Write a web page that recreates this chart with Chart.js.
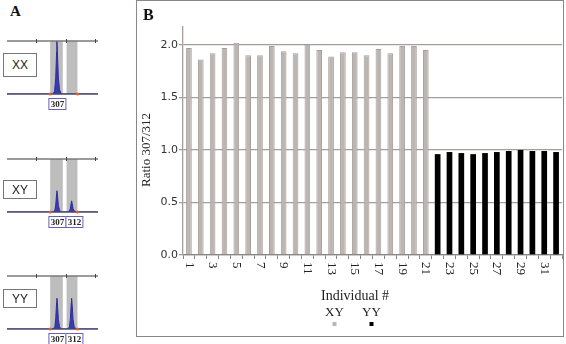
<!DOCTYPE html>
<html>
<head>
<meta charset="utf-8">
<script src="https://cdn.jsdelivr.net/npm/chart.js@4.4.0/dist/chart.umd.min.js"></script>
<style>
body { margin:0; width:566px; height:344px; overflow:hidden; background:#fff; position:relative; }
canvas { position:absolute; }
.geno { position:absolute; left:3px; width:34px; border:1px solid #777; box-sizing:border-box; font:12px 'Liberation Sans', sans-serif; color:#222; display:flex; align-items:center; justify-content:center; background:#fff; }
#labelA { position:absolute; left:10px; top:3px; font:bold 15px 'Liberation Serif', serif; color:#111; }
#boxB { position:absolute; left:136px; top:0; width:428px; height:337px; border:1.5px solid #8c8686; box-sizing:border-box; }
</style>
</head>
<body>
<div id="labelA">A</div>
<canvas id="stripXX" width="100" height="72" style="left:0;top:38px"></canvas>
<canvas id="stripXY" width="100" height="72" style="left:0;top:156px"></canvas>
<canvas id="stripYY" width="100" height="72" style="left:0;top:273px"></canvas>
<div class="geno" style="top:53px;height:24px">XX</div>
<div class="geno" style="top:180px;height:19px">XY</div>
<div class="geno" style="top:289px;height:19px">YY</div>
<div id="boxB"></div>
<canvas id="chartB" width="426" height="336" style="left:137px;top:0"></canvas>
<script>

// panel B data
const individuals = ['1','2','3','4','5','6','7','8','9','10','11','12','13','14','15','16',
    '17','18','19','20','21','22','23','24','25','26','27','28','29','30','31','32'];

const ratioXY = [1.97, 1.86, 1.92, 1.97, 2.02, 1.90, 1.90, 1.99, 1.94, 1.92, 2.00,
    1.95, 1.89, 1.93, 1.93, 1.90, 1.96, 1.92, 1.99, 1.99, 1.95,
    null, null, null, null, null, null, null, null, null, null, null];

const ratioYY = [null, null, null, null, null, null, null, null, null, null, null,
    null, null, null, null, null, null, null, null, null, null,
    0.96, 0.98, 0.97, 0.96, 0.97, 0.98, 0.99, 1.00, 0.99, 0.99, 0.98];

const yTicks = [0, 0.5, 1.0, 1.5, 2.0];
const yTitle = 'Ratio 307/312';
const xTitle = 'Individual #';

// panel A data (size in bp, relative peak height)
const binRanges = [[304.7, 309.0], [310.3, 314.0]];
const bpTicks = [300, 310, 320];

const peaksXX = [[290,0],[305.6,0],[306.2,0.05],[306.6,0.3],[306.9,0.8],[307.0,1.0],[307.2,0.75],
    [307.5,0.3],[307.9,0.08],[308.5,0],[321,0]];

const peaksXY = [[290,0],[305.7,0],[306.3,0.03],[306.6,0.13],[306.9,0.34],[307.0,0.4],[307.2,0.31],
    [307.5,0.12],[307.9,0.03],[308.5,0],[310.7,0],[311.3,0.02],[311.6,0.07],[311.9,0.18],[312.0,0.21],
    [312.2,0.16],[312.5,0.06],[312.9,0.02],[313.5,0],[321,0]];

const peaksYY = [[290,0],[305.7,0],[306.3,0.04],[306.6,0.2],[306.9,0.5],[307.0,0.58],[307.2,0.45],
    [307.5,0.18],[307.9,0.04],[308.5,0],[310.7,0],[311.3,0.04],[311.6,0.2],[311.9,0.5],[312.0,0.58],
    [312.2,0.45],[312.5,0.18],[312.9,0.04],[313.5,0],[321,0]];


Chart.defaults.animation = false;
Chart.defaults.devicePixelRatio = 1;


function makeStrip(id, peaks, alleles) {

    const deco = {
        id: 'deco',
        beforeDatasetsDraw(chart) {
            const ctx = chart.ctx, xs = chart.scales.x, a = chart.chartArea;
            ctx.save();
            ctx.fillStyle = '#bdbdbd';
            binRanges.forEach(function (b) {
                const x0 = xs.getPixelForValue(b[0]), x1 = xs.getPixelForValue(b[1]);
                ctx.fillRect(x0, a.top, x1 - x0, a.bottom - a.top);
            });
            ctx.restore();
        },
        afterDatasetsDraw(chart) {
            const ctx = chart.ctx, xs = chart.scales.x, a = chart.chartArea;
            ctx.save();
            // top line and its ticks
            ctx.strokeStyle = '#7a7a7a';
            ctx.lineWidth = 1.5;
            ctx.beginPath();
            ctx.moveTo(a.left, a.top);
            ctx.lineTo(a.right, a.top);
            ctx.stroke();
            ctx.strokeStyle = '#444';
            ctx.lineWidth = 1;
            bpTicks.forEach(function (t) {
                const x = Math.round(xs.getPixelForValue(t)) + 0.5;
                ctx.beginPath();
                ctx.moveTo(x, a.top - 2);
                ctx.lineTo(x, a.top + 2);
                ctx.stroke();
            });
            // baseline
            ctx.strokeStyle = '#4a4870';
            ctx.lineWidth = 1.5;
            ctx.beginPath();
            ctx.moveTo(a.left, a.bottom);
            ctx.lineTo(a.right, a.bottom);
            ctx.stroke();
            // bin edge markers
            ctx.fillStyle = '#e0622e';
            [binRanges[0][0], binRanges[1][1]].forEach(function (v) {
                ctx.beginPath();
                ctx.arc(xs.getPixelForValue(v), a.bottom, 1.6, 0, Math.PI * 2);
                ctx.fill();
            });
            // allele label boxes
            let left = xs.getPixelForValue(307) - 8.5;
            ctx.font = 'bold 9px "Liberation Serif"';
            ctx.textAlign = 'center';
            ctx.textBaseline = 'middle';
            alleles.forEach(function (lab) {
                ctx.fillStyle = '#fff';
                ctx.fillRect(left, a.bottom + 4, 17, 11);
                ctx.strokeStyle = '#6a5fb0';
                ctx.lineWidth = 1;
                ctx.strokeRect(left + 0.5, a.bottom + 4.5, 17, 11);
                ctx.fillStyle = '#222';
                ctx.fillText(lab, left + 9, a.bottom + 10.5);
                left += 17;
            });
            ctx.restore();
        }
    };

    return new Chart(document.getElementById(id), {
        type: 'line',
        data: {
            datasets: [{
                data: peaks.map(function (p) { return {x: p[0], y: p[1]}; }),
                borderColor: '#2c2c96',
                backgroundColor: '#3b3bb0',
                borderWidth: 1,
                fill: 'origin',
                pointRadius: 0,
                tension: 0
            }]
        },
        options: {
            responsive: false,
            layout: { padding: { left: 7, right: 2, top: 3, bottom: 16 } },
            plugins: { legend: { display: false }, tooltip: { enabled: false } },
            scales: {
                x: { type: 'linear', min: 290, max: 321, display: false },
                y: { min: 0, max: 1, display: false }
            }
        },
        plugins: [deco]
    });
}

makeStrip('stripXX', peaksXX, ['307']);
makeStrip('stripXY', peaksXY, ['307', '312']);
makeStrip('stripYY', peaksYY, ['307', '312']);


const extrasB = {
    id: 'extrasB',
    afterDraw(chart) {
        const ctx = chart.ctx, xs = chart.scales.x, a = chart.chartArea;
        ctx.save();
        ctx.fillStyle = '#111';
        ctx.font = 'bold 16px "Liberation Serif"';
        ctx.textAlign = 'left';
        ctx.textBaseline = 'alphabetic';
        ctx.fillText('B', 6, 20);

        ctx.fillStyle = '#222';
        ctx.save();
        ctx.translate(10, 150);
        ctx.rotate(-Math.PI / 2);
        ctx.font = '13px "Liberation Serif"';
        ctx.textAlign = 'center';
        ctx.textBaseline = 'middle';
        ctx.fillText(yTitle, 0, 0);
        ctx.restore();

        // rotated tick labels, every second one
        ctx.font = '13px "Liberation Serif"';
        individuals.forEach(function (lab, i) {
            if (i % 2) return;
            ctx.save();
            ctx.translate(xs.getPixelForValue(i), a.bottom + 7);
            ctx.rotate(Math.PI / 2);
            ctx.textAlign = 'left';
            ctx.textBaseline = 'middle';
            ctx.fillText(lab, 0, 0);
            ctx.restore();
        });

        ctx.font = '14px "Liberation Serif"';
        ctx.textAlign = 'center';
        ctx.textBaseline = 'middle';
        ctx.fillText(xTitle, 218, 296);

        // legend: name above a small swatch
        ctx.font = '13px "Liberation Serif"';
        chart.data.datasets.forEach(function (ds, k) {
            const cx = 197.5 + k * 37;
            ctx.fillStyle = '#222';
            ctx.fillText(ds.label, cx, 313);
            ctx.fillStyle = ds.backgroundColor;
            ctx.fillRect(cx - 2, 322, 4, 4);
        });
        ctx.restore();
    }
};

new Chart(document.getElementById('chartB'), {
    type: 'bar',
    data: {
        labels: individuals,
        datasets: [
            { label: 'XY', data: ratioXY, backgroundColor: '#bcb6b3', borderColor: '#a59f9c', borderWidth: 1, grouped: false },
            { label: 'YY', data: ratioYY, backgroundColor: '#000000', borderColor: '#000000', borderWidth: 0, grouped: false }
        ]
    },
    options: {
        responsive: false,
        layout: { padding: { left: 0, right: 1, top: 27, bottom: 0 } },
        categoryPercentage: 1,
        barPercentage: 0.48,
        plugins: { legend: { display: false }, tooltip: { enabled: false } },
        scales: {
            x: {
                grid: { offset: true, drawOnChartArea: false, tickLength: 4, color: '#8a8585', lineWidth: 1 },
                border: { color: '#8a8585', width: 1.3 },
                ticks: { display: false },
                afterFit: function (scale) { scale.height = 81; }
            },
            y: {
                min: 0,
                max: 2.17,
                afterBuildTicks: function (scale) {
                    scale.ticks = yTicks.map(function (v) { return { value: v }; });
                },
                grid: { color: '#a39e9c', lineWidth: 1.3, tickLength: 4 },
                border: { color: '#a39e9c', width: 1.3 },
                ticks: {
                    padding: 1,
                    color: '#333',
                    font: { family: 'DejaVu Sans', size: 11 },
                    callback: function (v) { return Number(v).toFixed(1); }
                },
                afterFit: function (scale) { scale.width = 46; }
            }
        }
    },
    plugins: [extrasB]
});

</script>
</body>
</html>
